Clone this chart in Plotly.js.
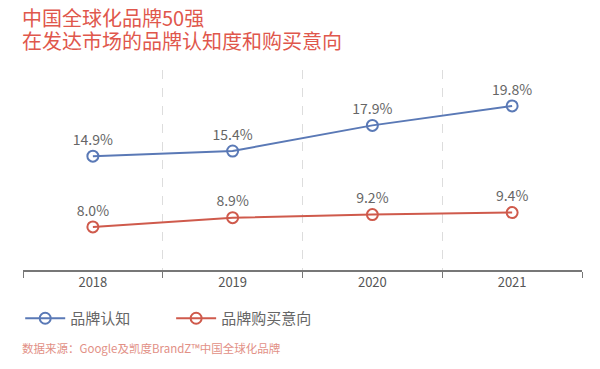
<!DOCTYPE html>
<html>
<head>
<meta charset="utf-8">
<script src="https://cdn.plot.ly/plotly-3.0.1.min.js"></script>
<style>html,body{margin:0;padding:0;background:#fff;}#chart{width:600px;height:369px;}</style>
</head>
<body>
<div id="chart"></div>
<script>
const years = ["2018", "2019", "2020", "2021"];
const awareness = [14.9, 15.4, 17.9, 19.8];
const purchase = [8.0, 8.9, 9.2, 9.4];
const seriesNames = ["品牌认知", "品牌购买意向"];
const titleLines = ["中国全球化品牌50强", "在发达市场的品牌认知度和购买意向"];
const sourceText = "数据来源：Google及凯度BrandZ™中国全球化品牌";

const FONT = '"Noto Sans CJK SC", "Noto Sans", sans-serif';
const BLUE = '#5a79b6';
const RED = '#cf5a4c';

function trace(y, name, color, legend) {
  return {
    x: years, y: y, name: name, type: 'scatter', mode: 'lines+markers+text',
    legend: legend,
    line: {color: color, width: 2},
    marker: {symbol: 'circle-open', size: 11, color: color, line: {width: 2, color: color}},
    text: y.map(v => v.toFixed(1) + '%'),
    textposition: 'top center',
    textfont: {family: FONT, size: 14, color: '#666'},
    cliponaxis: false,
    hoverinfo: 'skip'
  };
}

const data = [trace(awareness, seriesNames[0], BLUE, 'legend'),
              trace(purchase, seriesNames[1], RED, 'legend2')];

const titleFont = {family: FONT, size: 20, color: '#e0574c'};
const legendFont = {family: FONT, size: 15, color: '#666'};

const layout = {
  width: 600, height: 369,
  margin: {l: 23, r: 18, t: 70, b: 99},
  paper_bgcolor: '#fff', plot_bgcolor: '#fff',
  showlegend: true,
  legend: {orientation: 'h', x: -0.005, y: -0.16, xanchor: 'left', yanchor: 'top',
           font: legendFont, itemwidth: 40, bgcolor: 'rgba(0,0,0,0)'},
  legend2: {orientation: 'h', x: 0.265, y: -0.16, xanchor: 'left', yanchor: 'top',
           font: legendFont, itemwidth: 40, bgcolor: 'rgba(0,0,0,0)'},
  title: {text: ''},
  xaxis: {
    type: 'category', range: [-0.5, 3.5],
    showline: true, linecolor: '#777', linewidth: 1.5,
    ticks: 'outside', tickcolor: '#777', ticklen: 6, tickson: 'boundaries',
    showgrid: true, gridcolor: '#ddd', griddash: 'dash', gridwidth: 1,
    tickfont: {family: FONT, size: 13, color: '#555'},
    fixedrange: true
  },
  yaxis: {range: [3.8, 23.3], visible: false, showgrid: false, zeroline: false, fixedrange: true},
  annotations: [
    {text: titleLines[0], xref: 'paper', yref: 'paper', x: -0.005, y: 1.2625,
     xanchor: 'left', yanchor: 'middle', showarrow: false, font: titleFont},
    {text: titleLines[1], xref: 'paper', yref: 'paper', x: -0.005, y: 1.1475,
     xanchor: 'left', yanchor: 'middle', showarrow: false, font: titleFont},
    {text: sourceText, xref: 'paper', yref: 'paper', x: -0.006, y: -0.39,
     xanchor: 'left', yanchor: 'middle', showarrow: false,
     font: {family: FONT, size: 11.5, color: '#e29086'}}
  ]
};

Plotly.newPlot('chart', data, layout, {displayModeBar: false, staticPlot: true});
</script>
</body>
</html>
